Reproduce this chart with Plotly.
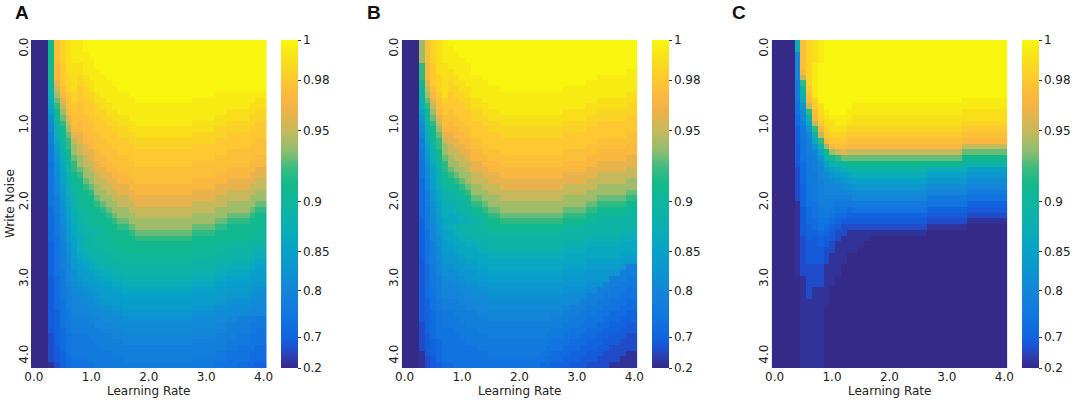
import numpy as np
import plotly.graph_objects as go

# accuracy levels, one character per heatmap cell
CODES = "0123456789abcdefghijklmnopqrstuvw"
LEVELS = [0.20, 0.28, 0.50, 0.62, 0.70, 0.72, 0.74, 0.76, 0.78, 0.80, 0.81,
          0.82, 0.83, 0.84, 0.85, 0.86, 0.87, 0.88, 0.89, 0.90, 0.91, 0.92,
          0.93, 0.94, 0.95, 0.96, 0.97, 0.975, 0.98, 0.985, 0.99, 0.995, 1.00]

# colorbar: tick values and where they sit along the bar (non-linear norm)
CBAR_TICKS = [0.2, 0.7, 0.8, 0.85, 0.9, 0.95, 0.98, 1.0]
CBAR_POS = [0.0, 0.094, 0.235, 0.354, 0.508, 0.723, 0.878, 1.0]
CBAR_LABELS = ["0.2", "0.7", "0.8", "0.85", "0.9", "0.95", "0.98", "1"]

AXIS_TICKS = [0, 1, 2, 3, 4]
AXIS_LABELS = ["0.0", "1.0", "2.0", "3.0", "4.0"]
PANEL_NAMES = ["A", "B", "C"]

# rows = write noise (top to bottom), 41 columns = learning rate 0.0 .. 4.0
# "x*n" means the level x repeated n times
ACC_A = [
    "000krtuv v w*32",
    "000krtuv v w*32",
    "000krtuv vv w*31",
    "000krtuv vvv w*30",
    "000kqsuu uvv w*30",
    "000kqsuu uvvv w*29",
    "000kqstu tuvvv w*28",
    "000jpstu tuuvvv w*27",
    "000iortu stuvvvv w*26",
    "000hnqst sttuvvvvvw w*14 v*9",
    "000gmprt sstuuvvvvv w*10 v*11 uu",
    "000flors rsstuuvvvv v*20 uuu",
    "000dknqs rssttuuvvv v*16 uuuuu tt",
    "000bjmpr rrssttuuuv v*14 u*6 ttt",
    "000ailor qrrssttuuu v*10 u*6 ttttt ss",
    "0009hknq qrrssstttu u*14 t*6 sss",
    "0008gkmp pqrrsssttt u*10 t*6 s*7",
    "0008fjlo pqqrrsssst t*14 s*7 rr",
    "0007eiln opqrrrssss t*10 s*10 rrr",
    "0007dhkn oppqrrrsss s*16 r*7",
    "0007cgkm nopqqrrrrs s*14 r*7 qq",
    "0006bfjl noopqqrrrr s*10 r*10 qqq",
    "0006bfil mnoppqqrrr r*16 q*5 pp",
    "0006aehk lnnoppqqqr r*14 q*6 ppp",
    "0006aehk kmnooppqqq r*10 q*6 p*5 oo",
    "00069dgj klmnoopppq q*14 p*6 ooo",
    "00069cgi kklnnooppp q*10 p*6 o*5 nn",
    "00068cfi jkkmnnooop p*14 o*6 nnn",
    "00068bfh jkklmnnooo p*10 o*6 n*5 mm",
    "00058beh jjkklmnnno o*14 n*6 mll",
    "00057aeg ijjkklmnnn o*10 n*6 mmmm l kk",
    "00057adg ijjkkklmmn n*14 mm llll kkk",
    "000579df hijjkkkllm n*10 m*4 ll k*7",
    "000579cf hiijjkkkkl m*10 l*4 k*7 jj",
    "000569ce ghijjjkkkk l*10 k*10 jjj",
    "000468be giijjjkkkk k*14 j*6 iii",
    "000468bd ghiijjjjkk k*10 j*6 i*5 hh",
    "000468ad fghiiijjjj j*14 i*6 hgg",
    "000468ac efghiiiijj j*10 i*6 hhhh g ff",
    "0004689c defghhiiii i*14 hh gggg f ee",
    "0004679b ddefgghhii i*10 hhhh gg ffff e dd",
    "0003579b cddeffgghh h*10 gggg ff eeee ddd",
    "0003579a bcddeeffgg g*10 ffff ee ddddd cc",
    "0003578a abcdddeeff f*10 eeee d*6 c bb",
    "00035789 aabcddddee e*10 d*6 cccc b aa",
    "00035689 9aabccdddd d*14 cc bbbb aaa",
    "00035689 99aabbccdd d*10 cccc bb aaaaa 99",
    "00034679 999aaabbcc c*10 bbbb a*6 999",
    "00034678 8899aaaabb b*10 aaaa aa 9988 8 77",
    "00034678 888999aaaa a*14 99 8888 777",
    "00034578 88889999aa a*10 9*6 8888 7 66",
    "00024567 7788889999 9*14 88 8877 666",
    "00024567 7778888899 9*10 8*6 7777 666",
    "00023567 7777888888 8*16 7766 6 55",
    "00023467 7777778888 8*14 77 6666 555",
    "00023456 6677777788 8*10 7*6 6666 555",
    "00012456 6667777777 7*14 66 6655 5 44",
]

ACC_B = [
    "000nrtuv w*33",
    "000nrtuv v w*32",
    "000nrtuv vv w*31",
    "000nrtuv vvv w*30",
    "000lqsuu vvvv w*29",
    "000lqsuu uvvv w*27 vv",
    "000lqstu uuvvvv w*20 v*7",
    "000kpstu tuuvvvv w*17 v*9",
    "000jortu ttuuvvvvv w*11 v*13",
    "000inqsu sttu v*27 uu",
    "000hmprt sstt uu v*20 u*7",
    "000glors ssst uuu v*17 u*7 tt",
    "000eknqs rsss tt uuu v*11 u*6 t*7",
    "000cjmpr rrss ttt u*17 t*7 ss",
    "000bilor qrrsss ttt u*11 t*6 s*7",
    "000ahknq qqrrssstt t*15 s*9",
    "0009gkmp pqqrsssss t*11 s*11 rr",
    "0008fjlo ppqqrrsss s*17 r*7",
    "0008eiln oppqrrrss s*15 r*7 qq",
    "0007dhkn ooppqqrrr s*11 r*6 q*7",
    "0007cgkm noopqqqrr r*15 q*7 pp",
    "0006bfjl nnooppqqq r*11 q*6 p*7",
    "0006aeil mnnopppqq q*15 p*7 oo",
    "0006aehk lmnnooppp q*11 p*6 o*7",
    "00059dhk klmnooopp p*15 o*7 nn",
    "00059dgj jklmnnooo p*11 o*6 n*7",
    "00058cfi ijklnnnoo o*15 n*7 mm",
    "00058cfh iijkmmnnn o*11 n*6 m*5 ll",
    "00058beh hiijllmnn n*15 mm lllll kk",
    "00057beg ghiikklmm n*11 mmmm ll kkkkk jj",
    "00057adg fghijjkll m*11 llll kk jjjjj ii",
    "00047adf ffghiijkk l*11 kkkk jj i*7",
    "000479cf ghiiijjkk k*11 jjjj i*9",
    "000469ce fghiiiijj j*11 i*10 hhh",
    "000469be ffghhiiii i*15 h*6 ggg",
    "000468bd effgghhii i*11 hhhh g*6 fff",
    "000468ad defffgghh h*11 gggg f*9",
    "000468ac cdeffffgg g*11 f*10 eee",
    "0003689c ccdeeffff f*15 e*6 ddd",
    "0003579b bccddeeff f*11 eeee d*6 c88",
    "0003579b abcccddee e*11 dddd c*6 888",
    "0003578a aabccccdd d*11 cccc cccc 88 8 77",
    "0003578a 9aabbcccc c*15 bbb888 777",
    "00035689 99aaabbcc c*11 bbbb aa8877 7 66",
    "00035689 999aaaabb b*11 aaaa 888777 6 66",
    "00034678 88999aaaa a*11 aaa8 887766 6 55",
    "00034678 8889999aa a*11 9888 777666 5 55",
    "00034567 788889999 9*11 8887 776655 5 44",
    "00034567 778888899 9*9 88 8777 666555 4 44",
    "00024567 777888888 8*11 7776 665544 4 33",
    "00024566 677778888 8*9 77 7666 555444 3 33",
    "00023566 667777788 8*8 777 6665 554433 3 22",
    "00023456 666777777 7*9 66 6555 444333 2 22",
    "00023456 666667777 7*8 666 5554 443322 2 22",
    "00013456 666666677 7*7 66 55 5444 333222 2 11",
    "00012356 666666666 6*8 555 4443 332222 1 11",
    "00012345 566666666 6*7 55 44 4333 222211 1 11",
]

ACC_C = [
    "0000 grtuv w*32",
    "0000 grtuv w*32",
    "0000 9rtuv w*32",
    "0000 9rtuv w*32",
    "0000 9rtv w*33",
    "0000 9qtv w*33",
    "0000 9otv w*33",
    "0000 8ltv w*33",
    "0000 8jsv w*33",
    "0000 8hrv w*33",
    "0000 7fqt w*25 v*8",
    "0000 6cos u wwwww v*27",
    "0000 6alr uvwwwv v*19 u*8",
    "0000 59iq tuvvvv u*27",
    "0000 58fo suuvvu u*19 t*8",
    "0000 47cl qtuuut t*19 s*8",
    "0000 479i osttts s*19 r*8",
    "0000 468f lqsssr r*19 q*8",
    "0000 368c inqrrq q*19 o*8",
    "0000 3689 fknopo o*19 m*8",
    "0000 3678 chklmm m*19 k*8",
    "0000 3578 aehijk k*19 i*8",
    "0000 2578 9cefgh i*13 g*7 e*7",
    "0000 2577 9acdef g*13 e*7 c*7",
    "0000 2577 89abcd e*13 c*7 a*7",
    "0000 2467 8999ab c*13 a*7 9*7",
    "0000 2467 899999 a*13 9*7 7*7",
    "0000 2467 888888 9*13 7*7 6*7",
    "0000 1466 888777 7*13 6*7 4*7",
    "0000 1356 787665 6*13 4*7 3*7",
    "0000 1356 776554 4*13 3*7 2*7",
    "0000 1355 665433 3*13 2*7 1*7",
    "0000 1345 654322 2*13 1*7 0*7",
    "0000 1344 543221 1*13 0*14",
    "0000 1243 433211 111 0*24",
    "0000 1233 432111 11 0*25",
    "0000 1233 322111 1 0*26",
    "0000 1233 321110 0*27",
    "0000 1233 321110 0*27",
    "0000 1222 211100 0*27",
    "0000 1222 211100 0*27",
    "0000 0122 211000 0*27",
    "0000 0122 211000 0*27",
    "0000 0121 110000 0*27",
    "0000 0121 110000 0*27",
    "0000 0111 110000 0*27",
    "0000 0111 100000 0*27",
    "0000 0111 100000 0*27",
    "0000 0111 100000 0*27",
    "0000 0111 100000 0*27",
    "0000 0111 100000 0*27",
    "0000 0111 100000 0*27",
    "0000 0111 100000 0*27",
    "0000 0111 100000 0*27",
    "0000 0111 100000 0*27",
    "0000 0111 100000 0*27",
    "0000 0111 100000 0*27",
]

# parula-like colours
PARULA = [
    [0.000, "#352a87"], [0.035, "#2e3eae"], [0.065, "#1a52d4"],
    [0.094, "#1264de"], [0.150, "#1174e0"], [0.235, "#1485d8"],
    [0.300, "#0c96d0"], [0.354, "#08a2c8"], [0.430, "#0aafb4"],
    [0.508, "#10b69c"], [0.560, "#12b98a"], [0.610, "#3cbb80"],
    [0.660, "#8cbd70"], [0.723, "#c6b95c"], [0.780, "#ebb24a"],
    [0.830, "#fbb83e"], [0.878, "#fdc830"], [0.930, "#f8dc1c"],
    [1.000, "#f8f60e"],
]


def decode(rows):
    grid = []
    for row in rows:
        s = ""
        for tok in row.split():
            if "*" in tok:
                ch, n = tok.split("*")
                s += ch * int(n)
            else:
                s += tok
        s = (s + s[-1] * 41)[:41]
        grid.append([LEVELS[CODES.index(ch)] for ch in s])
    return np.array(grid)


W, H = 1072, 400
heat_left = [31, 401.7, 771.7]
heat_w = 235.5
cbar_left = [281, 651.5, 1021.5]
letter_left = [13, 365, 730]
y_dom = [32 / H, 360 / H]

fig = go.Figure()
for i, rows in enumerate([ACC_A, ACC_B, ACC_C]):
    acc = decode(rows)
    z = np.interp(acc, CBAR_TICKS, CBAR_POS)
    n = "" if i == 0 else str(i + 1)
    fig.add_trace(go.Heatmap(
        z=z, customdata=acc,
        x0=0.0, dx=0.1, y0=-0.08, dy=0.075,
        zmin=0, zmax=1, colorscale=PARULA,
        xaxis="x" + n, yaxis="y" + n,
        hovertemplate="LR %{x:.1f}<br>noise %{y:.2f}<br>%{customdata:.3f}<extra></extra>",
        colorbar=dict(
            x=cbar_left[i] / W, xanchor="left", xref="paper",
            y=y_dom[0], yanchor="bottom", len=y_dom[1] - y_dom[0], lenmode="fraction",
            thickness=17, outlinewidth=0, xpad=0, ypad=0,
            tickvals=CBAR_POS, ticktext=CBAR_LABELS,
            ticks="outside", ticklen=3, tickwidth=1, tickcolor="#333",
            tickfont=dict(size=12, color="#222"),
        ),
    ))
    fig.layout["xaxis" + n] = dict(
        domain=[heat_left[i] / W, (heat_left[i] + heat_w) / W],
        range=[-0.05, 4.05], anchor="y" + n,
        tickvals=AXIS_TICKS, ticktext=AXIS_LABELS, ticks="",
        showgrid=False, zeroline=False, showline=False, automargin=False,
        tickfont=dict(size=12, color="#222"),
    )
    fig.layout["yaxis" + n] = dict(
        domain=y_dom, range=[4.1575, -0.1175], anchor="x" + n,
        tickvals=AXIS_TICKS, ticktext=AXIS_LABELS, ticks="", tickangle=-90,
        showgrid=False, zeroline=False, showline=False, automargin=False,
        tickfont=dict(size=12, color="#222"),
    )
    fig.add_annotation(
        text="Learning Rate", x=(heat_left[i] + heat_w / 2) / W, y=1 - 391 / H,
        xref="paper", yref="paper", xanchor="center", yanchor="middle",
        showarrow=False, font=dict(size=12, color="#222"),
    )
    fig.add_annotation(
        text="<b>" + PANEL_NAMES[i] + "</b>", x=letter_left[i] / W, y=1 - 12 / H,
        xref="paper", yref="paper", xanchor="left", yanchor="middle",
        showarrow=False, font=dict(size=19, color="#111", family="Liberation Sans"),
    )

fig.add_annotation(
    text="Write Noise", x=10 / W, y=1 - 204 / H, textangle=-90,
    xref="paper", yref="paper", xanchor="center", yanchor="middle",
    showarrow=False, font=dict(size=12, color="#222"),
)

fig.update_layout(
    width=W, height=H,
    margin=dict(l=0, r=0, t=0, b=0, autoexpand=False),
    paper_bgcolor="white", plot_bgcolor="white",
    font=dict(family="DejaVu Sans", size=12, color="#222"),
    showlegend=False,
)

fig.write_html("out.html",
               config={"displayModeBar": False},
               post_script="document.body.style.margin='0px';"
                           "document.body.style.overflow='hidden';")
